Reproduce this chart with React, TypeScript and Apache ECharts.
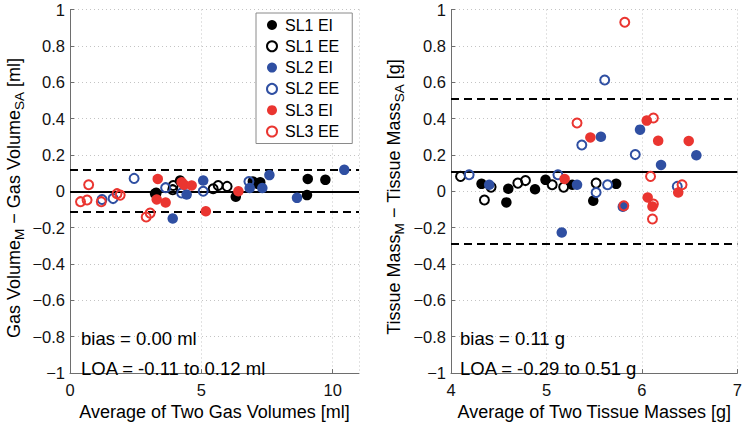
import React, { useEffect, useRef } from "react";
import * as echarts from "echarts";

const FONT = '"Liberation Sans", Arial, Helvetica, sans-serif';

const seriesNames = ["SL1 EI", "SL1 EE", "SL2 EI", "SL2 EE", "SL3 EI", "SL3 EE"];
const seriesColors = ["#000000", "#000000", "#2f4fa2", "#2f4fa2", "#ea3530", "#ea3530"];
const seriesFilled = [true, false, true, false, true, false];

// Left panel: Gas volume [ml] (x = average, y = difference)
const gasSL1EI = [[3.24, -0.013], [4.19, 0.059], [6.31, -0.03], [6.96, 0.054], [7.15, 0.041], [7.24, 0.05], [9.05, 0.068], [9.02, -0.021], [9.72, 0.063]];
const gasSL1EE = [[3.28, -0.009], [3.91, 0.009], [3.93, 0.032], [5.45, 0.014], [5.64, 0.032], [5.98, 0.027]];
const gasSL2EI = [[3.91, -0.15], [4.44, -0.018], [5.07, 0.059], [6.84, 0.018], [7.32, 0.018], [7.59, 0.089], [8.64, -0.036], [10.44, 0.118]];
const gasSL2EE = [[2.44, 0.071], [1.22, -0.045], [1.64, -0.04], [3.64, 0.02], [4.25, -0.009], [5.07, 0.0], [6.81, 0.054]];
const gasSL3EI = [[3.34, 0.068], [3.3, -0.045], [3.64, -0.062], [4.25, 0.05], [4.34, 0.036], [4.63, 0.032], [5.17, -0.11], [6.41, 0.0]];
const gasSL3EE = [[0.4, -0.057], [0.65, -0.048], [0.71, 0.036], [1.19, -0.057], [1.79, -0.013], [1.91, -0.021], [2.9, -0.141], [3.05, -0.12]];

// Right panel: Tissue mass [g]
const massSL1EI = [[4.32, 0.041], [4.58, -0.061], [4.6, 0.014], [4.88, 0.011], [4.99, 0.063], [5.27, 0.036], [5.49, -0.052], [5.73, 0.041]];
const massSL1EE = [[4.1, 0.082], [4.35, -0.048], [4.42, 0.023], [4.7, 0.045], [4.78, 0.059], [5.06, 0.036], [5.18, 0.023], [5.52, 0.045]];
const massSL2EI = [[4.4, 0.036], [5.32, 0.036], [5.16, -0.227], [5.57, 0.3], [5.98, 0.339], [6.2, 0.145], [6.57, 0.198], [5.8, -0.085]];
const massSL2EE = [[4.19, 0.091], [5.12, 0.091], [5.37, 0.255], [5.61, 0.612], [5.93, 0.202], [5.52, -0.007], [5.64, 0.036], [6.37, 0.027]];
const massSL3EI = [[5.19, 0.068], [5.46, 0.296], [6.05, 0.389], [6.17, 0.278], [6.49, 0.277], [6.06, -0.034], [6.11, -0.084], [6.38, -0.007]];
const massSL3EE = [[5.82, 0.93], [5.32, 0.376], [6.12, 0.403], [5.81, -0.08], [6.09, 0.082], [6.12, -0.07], [6.11, -0.152], [6.42, 0.036]];

const gasData = [gasSL1EI, gasSL1EE, gasSL2EI, gasSL2EE, gasSL3EI, gasSL3EE];
const massData = [massSL1EI, massSL1EE, massSL2EI, massSL2EE, massSL3EI, massSL3EE];

const gasBias = 0.0;
const gasLoa = [-0.11, 0.12];
const massBias = 0.11;
const massLoa = [-0.29, 0.51];

const gasXRange = [0, 11, 5];
const massXRange = [4, 7, 1];
const yRange = [-1, 1, 0.2];

const gasTexts = ["bias = 0.00 ml", "LOA = -0.11 to 0.12 ml"];
const massTexts = ["bias = 0.11 g", "LOA = -0.29 to 0.51 g"];
const gasXTitle = "Average of Two Gas Volumes [ml]";
const massXTitle = "Average of Two Tissue Masses [g]";
const gasYTitle = "Gas Volume{s|M} \u2212 Gas Volume{s|SA} [ml]";
const massYTitle = "Tissue Mass{s|M} \u2212 Tissue Mass{s|SA} [g]";

function itemStyleFor(k: number) {
  return seriesFilled[k]
    ? { color: seriesColors[k], opacity: 1 }
    : { color: "rgba(0,0,0,0)", borderColor: seriesColors[k], borderWidth: 2, opacity: 1 };
}

function xAxisFor(idx: number, range: number[], title: string) {
  return {
    type: "value",
    gridIndex: idx,
    min: range[0],
    max: range[1],
    interval: range[2],
    name: title,
    nameLocation: "middle",
    nameGap: 24,
    nameTextStyle: { fontSize: 18, color: "#000", fontFamily: FONT },
    axisLine: { show: true, onZero: false, lineStyle: { color: "#6e6e6e", width: 1 } },
    axisTick: { show: true, inside: true, length: 4, lineStyle: { color: "#6e6e6e" } },
    axisLabel: { fontSize: 16.5, color: "#111", fontFamily: FONT, margin: 8, showMaxLabel: idx === 1 },
    splitLine: { show: true, lineStyle: { color: "#c4c4c4", type: [1, 3], width: 1 } },
  };
}

function yAxisFor(idx: number) {
  return {
    type: "value",
    gridIndex: idx,
    min: yRange[0],
    max: yRange[1],
    interval: yRange[2],
    axisLine: { show: true, onZero: false, lineStyle: { color: "#6e6e6e", width: 1 } },
    axisTick: { show: true, inside: true, length: 4, lineStyle: { color: "#6e6e6e" } },
    axisLabel: {
      fontSize: 16.5,
      color: "#111",
      fontFamily: FONT,
      margin: 5,
      formatter: (v: number) => {
        const r = Math.round(v * 10) / 10;
        if (r === 0) return "0";
        return String(r).replace("-", "\u2212");
      },
    },
    splitLine: { show: true, lineStyle: { color: "#c4c4c4", type: [1, 3], width: 1 } },
  };
}

function markSeries(idx: number, bias: number, loa: number[]) {
  return {
    type: "scatter",
    name: "__lines" + idx,
    xAxisIndex: idx,
    yAxisIndex: idx,
    data: [],
    silent: true,
    markLine: {
      silent: true,
      symbol: "none",
      label: { show: false },
      animation: false,
      data: [
        { yAxis: bias, lineStyle: { color: "#000", width: 2, type: "solid", opacity: 1 } },
        { yAxis: loa[0], lineStyle: { color: "#000", width: 2, type: [8, 5], opacity: 1 } },
        { yAxis: loa[1], lineStyle: { color: "#000", width: 2, type: [8, 5], opacity: 1 } },
      ],
    },
  };
}

function scatterSeries(idx: number, data: number[][][]) {
  return seriesNames.map((name, k) => ({
    type: "scatter",
    name,
    xAxisIndex: idx,
    yAxisIndex: idx,
    symbol: "circle",
    symbolSize: seriesFilled[k] ? 10.5 : 9,
    itemStyle: itemStyleFor(k),
    data: data[k],
    z: 3 + k,
  }));
}

// texts placed by their top edge (font 18.5 -> centre = top + 9.25)
function textEl(x: number, yTop: number, text: string) {
  return {
    type: "text",
    x,
    y: yTop,
    z: 10,
    style: { text, fontSize: 18.5, fontFamily: FONT, fill: "#000", align: "left", verticalAlign: "top" },
  };
}

// rotated title; x is the left edge of the rotated line box
function yTitleEl(x: number, y: number, text: string) {
  return {
    type: "text",
    x,
    y,
    rotation: Math.PI / 2,
    z: 10,
    style: {
      text,
      fontSize: 18,
      fontFamily: FONT,
      fill: "#000",
      align: "center",
      verticalAlign: "top",
      rich: {
        s: { fontSize: 13.5, fontFamily: FONT, fill: "#000", padding: [11, 0, 0, 0] },
      },
    },
  };
}

export default function App() {
  const ref = useRef<HTMLDivElement>(null);
  useEffect(() => {
    if (!ref.current) return;
    const chart = echarts.init(ref.current, null, { renderer: "svg" });
    const option: any = {
      animation: false,
      backgroundColor: "#ffffff",
      textStyle: { fontFamily: FONT },
      grid: [
        { left: 70, top: 9.5, width: 289, height: 373.5 },
        { left: 451, top: 9.5, width: 288, height: 373.5 },
      ],
      xAxis: [xAxisFor(0, gasXRange, gasXTitle), xAxisFor(1, massXRange, massXTitle)],
      yAxis: [yAxisFor(0), yAxisFor(1)],
      legend: {
        orient: "vertical",
        left: 256,
        top: 13,
        padding: [4, 13, 4, 10],
        itemGap: 5.3,
        itemWidth: 16,
        itemHeight: 10,
        icon: "circle",
        selectedMode: false,
        backgroundColor: "#ffffff",
        borderColor: "#8a8a8a",
        borderWidth: 1,
        z: 20,
        textStyle: { fontSize: 16, lineHeight: 16, color: "#000", fontFamily: FONT },
        data: seriesNames.map((name, k) => ({ name, icon: "circle", itemStyle: itemStyleFor(k) })),
      },
      graphic: [
        textEl(81, 329, gasTexts[0]),
        textEl(81, 359, gasTexts[1]),
        textEl(460, 329, massTexts[0]),
        textEl(460, 359, massTexts[1]),
        yTitleEl(1, 198, gasYTitle),
        yTitleEl(381, 197, massYTitle),
      ],
      series: [
        markSeries(0, gasBias, gasLoa),
        markSeries(1, massBias, massLoa),
        ...scatterSeries(0, gasData),
        ...scatterSeries(1, massData),
      ],
    };
    chart.setOption(option);
    return () => chart.dispose();
  }, []);
  return (
    <div
      ref={ref}
      style={{ position: "fixed", left: 0, top: 0, width: 745, height: 426, background: "#fff" }}
    />
  );
}
